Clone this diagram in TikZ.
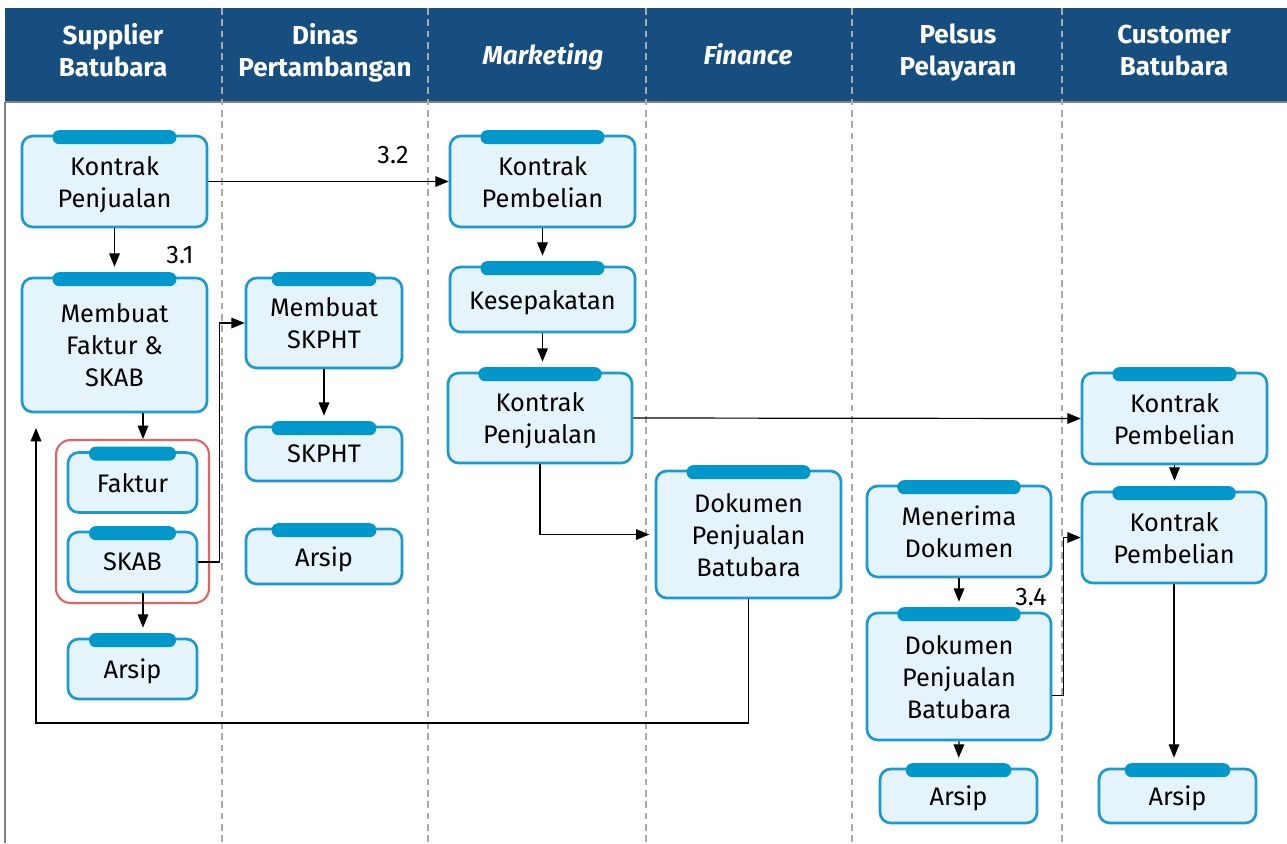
\documentclass[tikz,border=0pt]{standalone}
\usepackage{fontspec}
\setmainfont{Fira Sans}
\usetikzlibrary{arrows.meta,calc}

\definecolor{headblue}{HTML}{164E80}
\definecolor{procblue}{HTML}{1A9AD0}
\definecolor{tabblue}{HTML}{0097CB}
\definecolor{procfill}{HTML}{E5F4FA}
\definecolor{grpred}{HTML}{E06464}
\definecolor{lanegray}{HTML}{AAAAAA}

\tikzset{
  proc/.style={draw=procblue, fill=procfill, line width=2pt, rounded corners=8pt,
    align=center, inner sep=0pt, text depth=0pt, font=\fontsize{19}{24}\selectfont},
  lane/.style={lanegray, line width=1pt, dash pattern=on 5pt off 3.5pt},
  flow/.style={line width=0.9pt, -{Triangle[length=10pt,width=8pt]}},
  tabin/.style={shorten >=7.5pt},
  head/.style={white, align=center, text depth=0pt, font=\fontsize{19.5}{24}\selectfont\bfseries},
  num/.style={font=\fontsize{19}{24}\selectfont}
}

\begin{document}
\begin{tikzpicture}[x=0.75pt,y=0.75pt,yscale=-1]
\useasboundingbox (0,0) rectangle (1287,843);

%Shape: Rectangle (header)
\fill[headblue] (5,8) rectangle (1287,102);
\draw[gray, line width=1.2pt] (5,102) -- (1287,102);
\draw[gray, line width=1.2pt] (5,102) -- (5,843);
%Straight Lines (lanes)
\foreach \x in {222,428,646,852,1062}
  \draw[lane] (\x,8) -- (\x,843);

% Text Node
\node[head] (hSup) at (113,50) {Supplier\\Batubara};
\node[head] (hDin) at (325,50) {Dinas\\Pertambangan};
\node[head] (hMkt) at (543,54) {\itshape Marketing};
\node[head] (hFin) at (748,54) {\itshape Finance};
\node[head] (hPel) at (958,50) {Pelsus\\Pelayaran};
\node[head] (hCus) at (1174,50) {Customer\\Batubara};

%Shape: Group (red)
\node[draw=grpred, line width=1.6pt, rounded corners=11pt, minimum width=114.75pt, minimum height=122.25pt] (grp) at (132.5,521.5) {};

%Shape: Process boxes
\node[proc, minimum width=138.75pt, minimum height=68.25pt] (supKontrak) at (114.5,181.5) {Kontrak\\Penjualan};
\node[proc, minimum width=138.75pt, minimum height=100.5pt] (supBuat) at (114.5,345) {Membuat\\Faktur \&\\SKAB};
\node[proc, minimum width=96.75pt, minimum height=45pt] (faktur) at (132.5,482.5) {Faktur};
\node[proc, minimum width=96.75pt, minimum height=45pt] (skab) at (132.5,562) {SKAB};
\node[proc, minimum width=96.75pt, minimum height=45pt] (supArsip) at (132.5,669) {Arsip};

\node[proc, minimum width=117pt, minimum height=67.5pt] (dinBuat) at (324,323) {Membuat\\SKPHT};
\node[proc, minimum width=117pt, minimum height=40.5pt] (skpht) at (324,454) {SKPHT};
\node[proc, minimum width=117pt, minimum height=41.25pt] (dinArsip) at (324,556.5) {Arsip};

\node[proc, minimum width=138.75pt, minimum height=68.25pt] (mktBeli) at (542.5,181.5) {Kontrak\\Pembelian};
\node[proc, minimum width=138.75pt, minimum height=48.75pt] (mktSepakat) at (542.5,299.5) {Kesepakatan};
\node[proc, minimum width=138pt, minimum height=67.5pt] (mktJual) at (540,418) {Kontrak\\Penjualan};

\node[proc, minimum width=138.75pt, minimum height=95.25pt] (finDok) at (748.5,534.5) {Dokumen\\Penjualan\\Batubara};

\node[proc, minimum width=138pt, minimum height=68.25pt] (pelTerima) at (959,531.5) {Menerima\\Dokumen};
\node[proc, minimum width=138pt, minimum height=95.25pt] (pelDok) at (959,676.5) {Dokumen\\Penjualan\\Batubara};
\node[proc, minimum width=117.75pt, minimum height=40.5pt] (pelArsip) at (958.5,796) {Arsip};

\node[proc, minimum width=138.75pt, minimum height=68.25pt] (cusBeliA) at (1174.5,418.5) {Kontrak\\Pembelian};
\node[proc, minimum width=138pt, minimum height=68.25pt] (cusBeliB) at (1174,537.5) {Kontrak\\Pembelian};
\node[proc, minimum width=117.75pt, minimum height=40.5pt] (cusArsip) at (1177.5,796) {Arsip};

%Shape: Tabs on top of the boxes
\foreach \n in {supKontrak,supBuat,faktur,skab,supArsip,dinBuat,skpht,dinArsip,
  mktBeli,mktSepakat,mktJual,finDok,pelTerima,pelDok,pelArsip,cusBeliA,cusBeliB,cusArsip}
  \fill[tabblue, rounded corners=5pt] ($(\n.north west)!0.17!(\n.north east)+(0,-4.5)$)
    rectangle ($(\n.north west)!0.83!(\n.north east)+(0,9.5)$);

% Text Node (step numbers)
\node[num] (n31) at (180,255) {3.1};
\node[num] (n32) at (393,155) {3.2};
\node[num] (n34) at (1031,597) {3.4};

\coordinate (colx) at (143,0);
\coordinate (loopB) at (36,723);
\coordinate (loopT) at (36,428);

%Straight Lines
\draw[flow, tabin] (supKontrak.south) -- (supBuat.north);
\draw[flow] (supKontrak.east) -- (mktBeli.west);
\draw[flow] (supBuat.south -| colx) -- (grp.north -| colx);
\draw[flow, tabin] (skab.south -| colx) -- (supArsip.north -| colx);
\draw[flow] (skab.east) -- ++(21,0) |- (dinBuat.west);
\draw[flow, tabin] (dinBuat.south) -- (skpht.north);
\draw[flow, tabin] (mktBeli.south) -- (mktSepakat.north);
\draw[flow, tabin] (mktSepakat.south) -- (mktSepakat.south |- mktJual.north);
\draw[flow] (mktJual.east) -- (cusBeliA.west);
\draw[flow, shorten >=4pt] (mktJual.south) |- (finDok.west);
\draw[flow] (finDok.south) |- (loopB) -- (loopT);
\draw[flow, tabin] (pelTerima.south) -- (pelDok.north);
\draw[flow] ([yshift=14pt]pelDok.east) -- ++(11,0) |- (cusBeliB.west);
\draw[flow, tabin] (pelDok.south) -- (pelArsip.north);
\draw[flow, tabin] (cusBeliA.south) -- (cusBeliA.south |- cusBeliB.north);
\draw[flow, tabin] (cusBeliB.south) -- (cusBeliB.south |- cusArsip.north);
\end{tikzpicture}
\end{document}
